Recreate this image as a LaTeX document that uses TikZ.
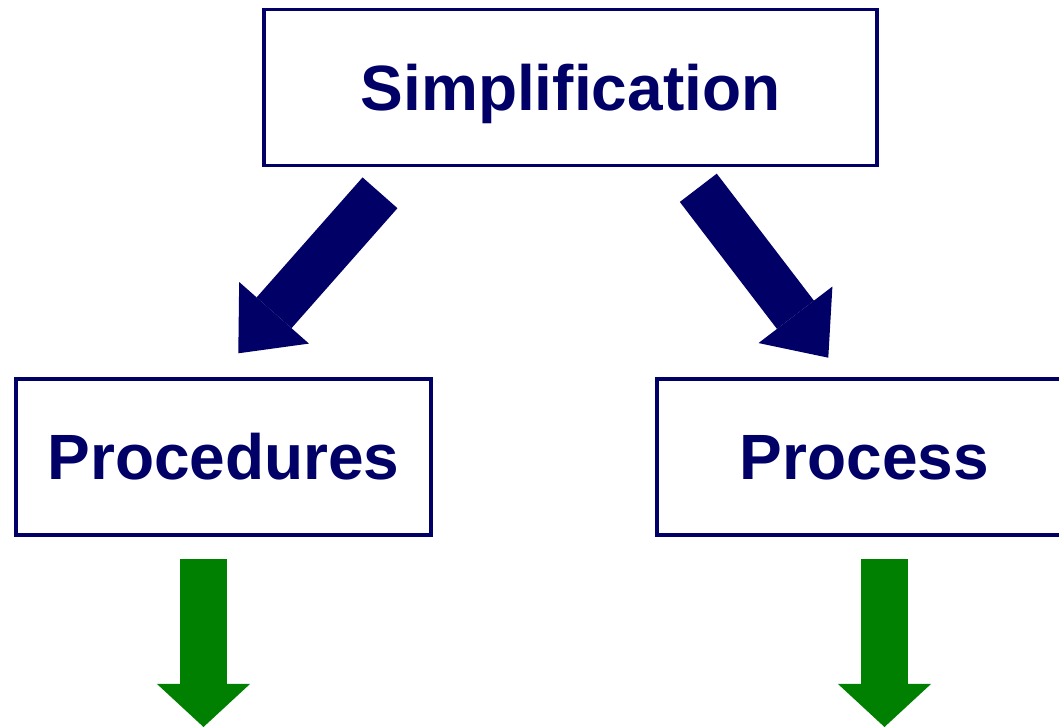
\documentclass[tikz,border=0pt]{standalone}
\usepackage{fontspec}
\setmainfont{Liberation Sans}
\usepackage{xcolor}
\usepackage{tikz}
\usetikzlibrary{arrows.meta}
\definecolor{navy}{RGB}{0,0,102}
\definecolor{leafgreen}{RGB}{0,128,0}

\begin{document}
\begin{tikzpicture}[x=0.01cm,y=-0.01cm]
    \tikzstyle{box}=[rectangle,draw=navy,line width=0.35mm,minimum height=1.56cm,inner sep=0pt,text=navy,font=\fontsize{18.2}{22}\selectfont\bfseries,text height=13pt,text depth=0pt]
    \tikzstyle{big arrow}=[line width=4.65mm]
    \tikzstyle{navy arrow}=[big arrow,color=navy,-{Triangle[width=9.3mm,length=5.4mm,line width=0pt]}]
    \tikzstyle{green arrow}=[big arrow,color=leafgreen,-{Triangle[width=9.3mm,length=4.3mm,line width=0pt]}]

    % Fix the page
    \clip (0,0) rectangle (1059,727);

    % Draw the boxes
    \node[box,minimum width=6.13cm] (S) at (570.5,87.3) {Simplification};
    \node[box,minimum width=4.15cm] (P-1) at (223.5,456.9) {Procedures};
    \node[box,minimum width=4.15cm] (P-2) at (864.5,456.9) {Process};

    % Ends of the navy arrows
    \coordinate (N-1-a) at (380,192.8);
    \coordinate (N-1-b) at (238.3,353.3);
    \coordinate (N-2-a) at (698.3,187.8);
    \coordinate (N-2-b) at (828.3,357.7);
    \foreach \name in {1,2}
        \draw[navy arrow] (N-\name-a) -- (N-\name-b);

    % Green arrows below the two boxes
    \foreach \name / \x in {1/203.5,2/884.5} {
        \coordinate (G-\name-a) at (\x,559);
        \coordinate (G-\name-b) at (\x,727);
        \draw[green arrow] (G-\name-a) -- (G-\name-b);
    }
\end{tikzpicture}
\end{document}
